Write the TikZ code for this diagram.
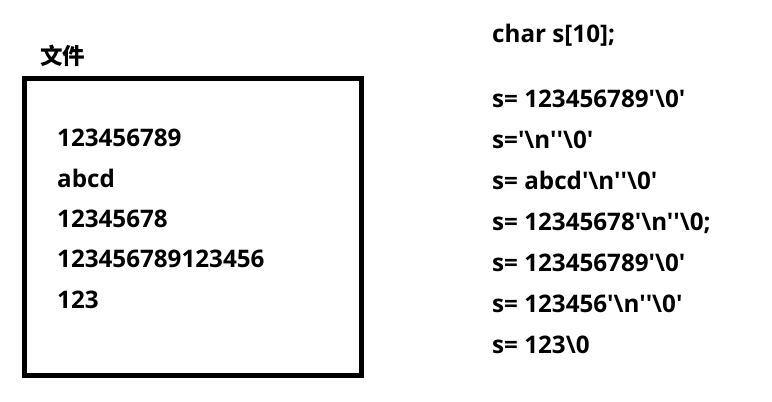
\documentclass[tikz,border=0pt]{standalone}
\usepackage{fontspec}
\newfontfamily\lat{Open Sans}
\newfontfamily\cjk{Noto Sans CJK SC}
\begin{document}
\begin{tikzpicture}[x=1pt,y=-1pt,
  txt/.style={anchor=base west,inner sep=0pt,font=\lat\bfseries\fontsize{24.2}{29}\selectfont},
  ctxt/.style={anchor=base west,inner sep=0pt,font=\cjk\bfseries\fontsize{22.5}{27}\selectfont}]
\useasboundingbox[fill=white] (0,0) rectangle (772,402);
\node[draw,line width=4.7pt,minimum width=337pt,minimum height=297pt,inner sep=0pt] (file) at (193,227) {};
\node[ctxt] (title) at (40,64) {文件};
\node[txt] (l1) at (57,146) {123456789};
\node[txt] (l2) at (57,187) {abcd};
\node[txt] (l3) at (57,227) {12345678};
\node[txt] (l4) at (57,267) {123456789123456};
\node[txt] (l5) at (57,308) {123};
\node[txt] (r0) at (492,42) {char s[10];};
\node[txt] (r1) at (492,107) {s= 123456789'\textbackslash 0'};
\node[txt] (r2) at (492,148) {s='\textbackslash n''\textbackslash 0'};
\node[txt] (r3) at (492,189) {s= abcd'\textbackslash n''\textbackslash 0'};
\node[txt] (r4) at (492,230) {s= 12345678'\textbackslash n''\textbackslash 0;};
\node[txt] (r5) at (492,271) {s= 123456789'\textbackslash 0'};
\node[txt] (r6) at (492,312) {s= 123456'\textbackslash n''\textbackslash 0'};
\node[txt] (r7) at (492,353) {s= 123\textbackslash 0};
\end{tikzpicture}
\end{document}
